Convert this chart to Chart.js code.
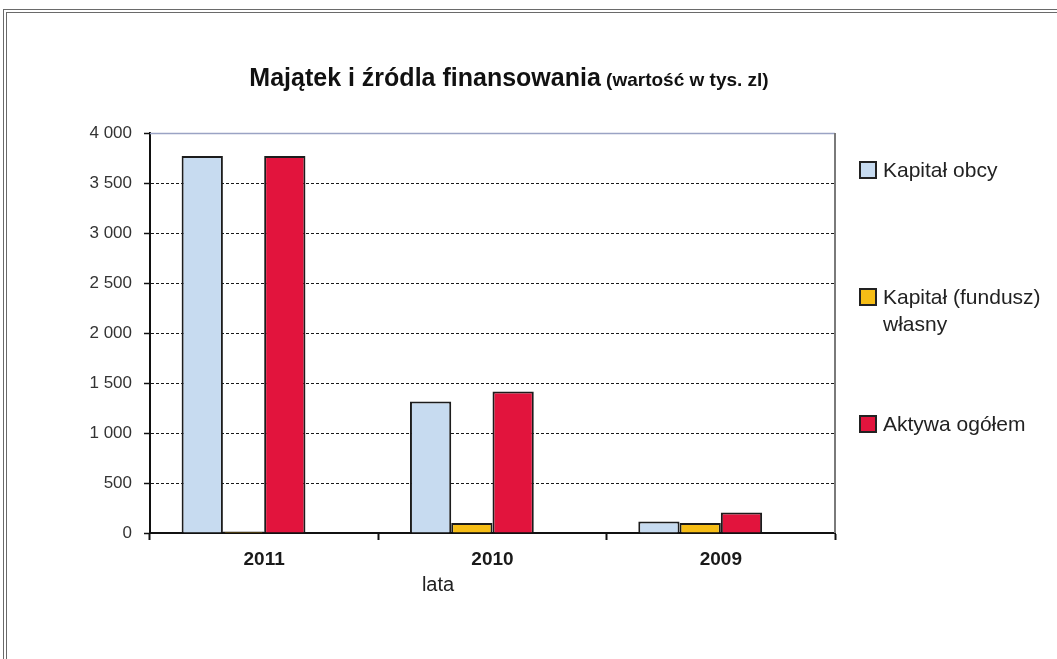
<!DOCTYPE html>
<html>
<head>
<meta charset="utf-8">
<title>Majątek i źródla finansowania</title>
<script src="https://cdn.jsdelivr.net/npm/chart.js@4.4.0/dist/chart.umd.min.js"></script>
<style>
    html, body { margin: 0; padding: 0; background: #fff; overflow: hidden; }
    #frame {
        position: absolute; left: 3px; top: 9px; width: 1100px; height: 700px;
        border: 4px double #6a6a6a; box-sizing: border-box;
    }
    #wrap { position: absolute; left: 0; top: 0; width: 1057px; height: 659px; }
</style>
</head>
<body>
<div id="frame"></div>
<div id="wrap"><canvas id="chart"></canvas></div>
<script>
// Chart data
const years = ['2011', '2010', '2009'];
const kapitalObcy = [3770, 1315, 115];
const kapitalWlasny = [15, 100, 100];
const aktywaOgolem = [3770, 1415, 205];
const yTicks = [0, 500, 1000, 1500, 2000, 2500, 3000, 3500, 4000];
const seriesNames = ['Kapitał obcy', ['Kapitał (fundusz)', 'własny'], 'Aktywa ogółem'];

const FONT = 'Arial, "Liberation Sans", sans-serif';

// Title (two sizes on one line) + right-hand legend + axis title
const decorations = {
    id: 'decorations',
    afterDraw(chart) {
        const { ctx, chartArea } = chart;
        ctx.save();

        // frame of the plot area: light top line, grey right line
        ctx.strokeStyle = '#9aa3c4';
        ctx.lineWidth = 1.5;
        ctx.beginPath();
        ctx.moveTo(chartArea.left, chartArea.top + 0.5);
        ctx.lineTo(chartArea.right, chartArea.top + 0.5);
        ctx.stroke();
        ctx.strokeStyle = '#7a7a7a';
        ctx.lineWidth = 2;
        ctx.beginPath();
        ctx.moveTo(chartArea.right, chartArea.top);
        ctx.lineTo(chartArea.right, chartArea.bottom);
        ctx.stroke();

        // title
        const t1 = 'Majątek i źródla finansowania';
        const t2 = ' (wartość w tys. zl)';
        ctx.fillStyle = '#111';
        ctx.textBaseline = 'alphabetic';
        ctx.textAlign = 'left';
        ctx.font = 'bold 25px ' + FONT;
        const w1 = ctx.measureText(t1).width;
        ctx.font = 'bold 19px ' + FONT;
        const w2 = ctx.measureText(t2).width;
        const x = 509 - (w1 + w2) / 2;
        ctx.font = 'bold 25px ' + FONT;
        ctx.fillText(t1, x, 86);
        ctx.font = 'bold 19px ' + FONT;
        ctx.fillText(t2, x + w1, 86);

        // axis title
        ctx.font = '20px ' + FONT;
        ctx.fillStyle = '#222';
        ctx.textAlign = 'center';
        ctx.textBaseline = 'middle';
        ctx.fillText('lata', 438, 585);

        // legend
        const rows = [170, 297, 424];
        chart.data.datasets.slice(0, 3).forEach((ds, i) => {
            const y = rows[i];
            ctx.fillStyle = ds.backgroundColor;
            ctx.fillRect(860, y - 8, 16, 16);
            ctx.strokeStyle = '#222';
            ctx.lineWidth = 2;
            ctx.strokeRect(860, y - 8, 16, 16);
            ctx.fillStyle = '#222';
            ctx.textAlign = 'left';
            ctx.textBaseline = 'middle';
            ctx.font = '21px ' + FONT;
            const lines = Array.isArray(seriesNames[i]) ? seriesNames[i] : [seriesNames[i]];
            lines.forEach((line, j) => ctx.fillText(line, 883, y + 1 + j * 27));
        });
        ctx.restore();
    }
};

const ctx = document.getElementById('chart').getContext('2d');
new Chart(ctx, {
    type: 'bar',
    data: {
        labels: years,
        datasets: [
            { label: 'Kapitał obcy', data: kapitalObcy, backgroundColor: '#c7dbf0' },
            { label: 'Kapitał (fundusz) własny', data: kapitalWlasny, backgroundColor: '#f6bd16' },
            { label: 'Aktywa ogółem', data: aktywaOgolem, backgroundColor: '#e2143d' },
            // empty fourth series: Excel keeps its slot, so the groups sit left of the labels
            { label: '', data: [null, null, null], backgroundColor: 'transparent' }
        ].map(ds => Object.assign(ds, {
            borderColor: '#1c1c1c',
            borderWidth: 2,
            borderSkipped: 'bottom',
            barPercentage: 1,
            categoryPercentage: 0.723
        }))
    },
    options: {
        responsive: true,
        maintainAspectRatio: false,
        animation: false,
        layout: { padding: { left: 0, right: 222, top: 133, bottom: 0 } },
        plugins: {
            legend: { display: false },
            title: { display: false },
            tooltip: { enabled: false }
        },
        scales: {
            x: {
                afterFit: (s) => { s.height = 126; },
                grid: {
                    drawOnChartArea: false,
                    drawTicks: true,
                    tickLength: 7,
                    tickColor: '#111',
                    tickWidth: 2,
                    offset: true
                },
                border: { color: '#111', width: 2 },
                ticks: {
                    color: '#1a1a1a',
                    padding: 8,
                    font: { family: FONT, size: 19, weight: 'bold' }
                }
            },
            y: {
                min: 0,
                max: 4000,
                afterFit: (s) => { s.width = 150; },
                afterBuildTicks: (s) => { s.ticks = yTicks.map(v => ({ value: v })); },
                grid: {
                    color: '#1a1a1a',
                    lineWidth: 1,
                    tickLength: 6,
                    tickColor: '#111',
                    tickWidth: 1.5,
                    tickBorderDash: []
                },
                border: { color: '#111', width: 2, dash: [3, 2] },
                ticks: {
                    color: '#333',
                    padding: 12,
                    font: { family: FONT, size: 17 },
                    callback: (v) => String(v).replace(/\B(?=(\d{3})+(?!\d))/g, ' ')
                }
            }
        }
    },
    plugins: [decorations]
});
</script>
</body>
</html>
